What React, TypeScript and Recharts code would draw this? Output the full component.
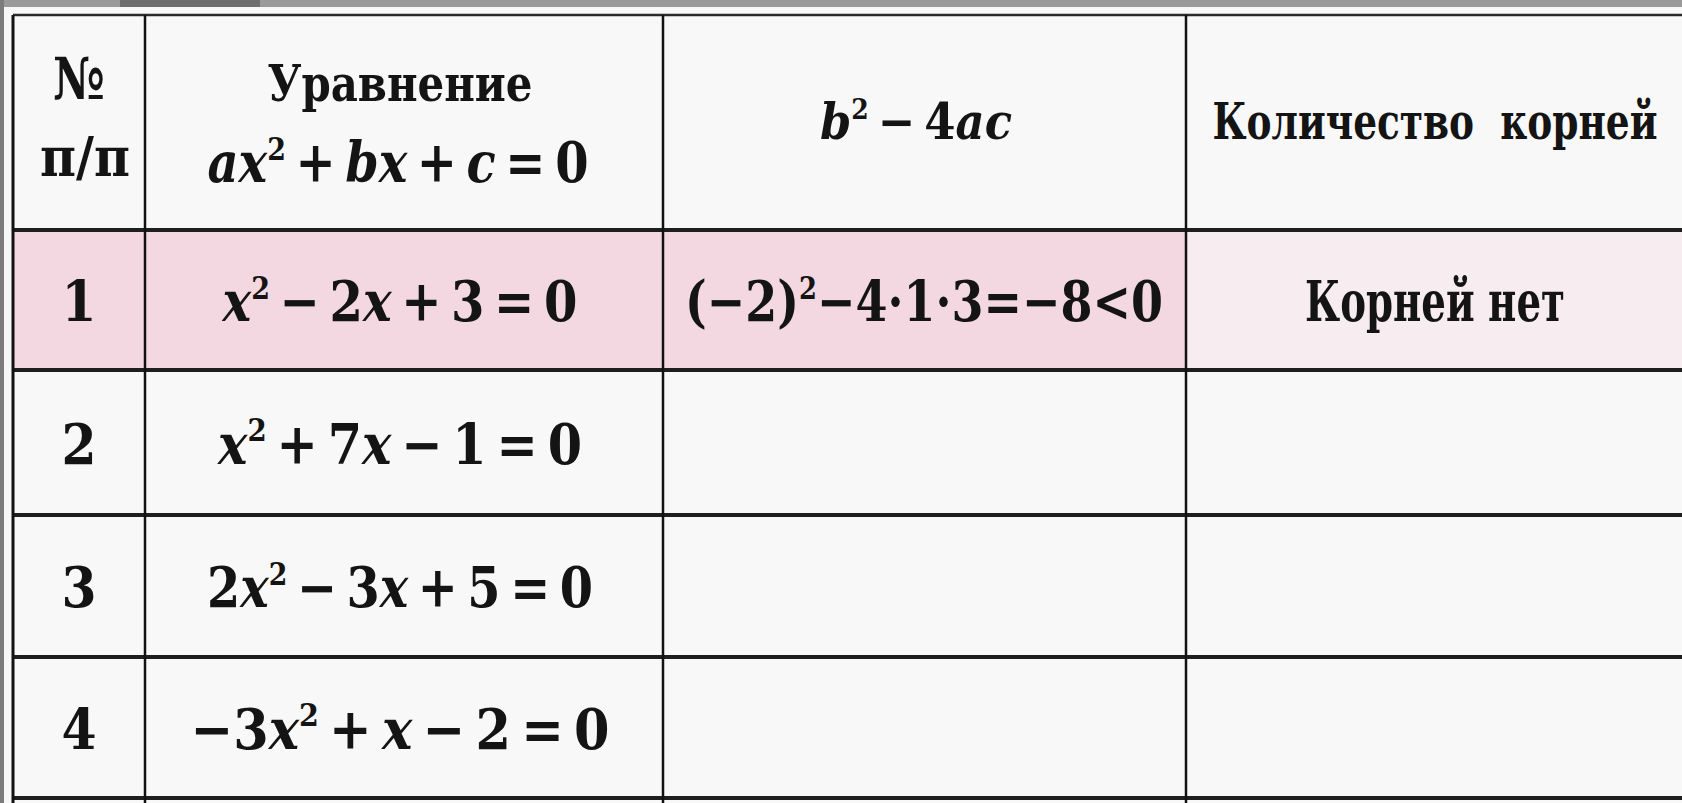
import React from "react";
import {
  ComposedChart,
  XAxis,
  YAxis,
  ReferenceArea,
  ReferenceLine,
  Scatter,
} from "recharts";

// table content
const headerNo = ["№", "п/п"];
const headerEquation = ["Уравнение", "ax^2+bx+c=0"];
const headerDiscriminant = ["b^2−4ac"];
const headerRoots = ["Количество  корней"];

const rowNumbers = ["1", "2", "3", "4"];
const equations = ["x^2−2x+3=0", "x^2+7x−1=0", "2x^2−3x+5=0", "−3x^2+x−2=0"];
const discriminants = ["(−2)^2−4·1·3=−8<0", "", "", ""];
const rootCounts = ["Корней нет", "", "", ""];

// layout (page pixels)
const W = 1682;
const H = 803;
const colEdges = [13, 145, 663, 1186];
const rowEdges = [15, 230, 370, 515, 657, 798];
const colCenters = [79, 400, 924, 1435];
const HEAD_FS = 50;
const ROW_FS = 56;
const INK = "#141414";
const FONT = "'DejaVu Serif', 'Liberation Serif', serif";

// measured text widths in the picture
const widths: Record<string, number> = {
  "№": 52,
  "п/п": 90,
  "Уравнение": 265,
  "ax^2+bx+c=0": 381,
  "b^2−4ac": 192,
  "Количество  корней": 445,
  "x^2−2x+3=0": 355,
  "x^2+7x−1=0": 364,
  "2x^2−3x+5=0": 386,
  "−3x^2+x−2=0": 419,
  "(−2)^2−4·1·3=−8<0": 478,
  "Корней нет": 260,
};

type Cell = { x: number; y: number; text: string; fs: number; gap: boolean };

const headerCells: Cell[] = [
  { x: 79, y: 99, text: headerNo[0], fs: 58, gap: false },
  { x: 85, y: 176, text: headerNo[1], fs: 54, gap: false },
  { x: colCenters[1], y: 101, text: headerEquation[0], fs: HEAD_FS, gap: false },
  { x: 398, y: 182, text: headerEquation[1], fs: ROW_FS, gap: true },
  { x: 916, y: 139, text: headerDiscriminant[0], fs: HEAD_FS, gap: true },
  { x: colCenters[3], y: 139, text: headerRoots[0], fs: HEAD_FS, gap: false },
];

const bodyCells: Cell[] = rowNumbers.flatMap((n, i) => {
  const base = (rowEdges[i + 1] + rowEdges[i + 2]) / 2 + 21;
  return [
    { x: colCenters[0], y: base, text: n, fs: ROW_FS, gap: false },
    { x: colCenters[1], y: base, text: equations[i], fs: ROW_FS, gap: true },
    { x: colCenters[2], y: base, text: discriminants[i], fs: ROW_FS, gap: false },
    { x: colCenters[3], y: base, text: rootCounts[i], fs: ROW_FS, gap: false },
  ].filter((c) => c.text !== "");
});

const cells = [...headerCells, ...bodyCells];

// binary operators get a thin space on each side
function spaced(s: string) {
  return s.replace(/([^\s(=−])([+−=<])/g, "$1\u2009$2\u2009").replace(/=(?!\u2009)/g, "=\u2009");
}

function mathSpans(s: string, fs: number) {
  const out: React.ReactNode[] = [];
  const re = /\^(\d)|[a-z]+|[^a-z^]+/g;
  let m: RegExpExecArray | null;
  let raised = false;
  let k = 0;
  const lift = fs * 0.4;
  while ((m = re.exec(s)) !== null) {
    if (m[1]) {
      out.push(
        <tspan key={k++} dy={-lift} fontSize={fs * 0.56} fontStyle="normal">
          {m[1]}
        </tspan>
      );
      raised = true;
    } else {
      const italic = /^[a-z]+$/.test(m[0]);
      out.push(
        <tspan key={k++} dy={raised ? lift : undefined} fontStyle={italic ? "italic" : "normal"}>
          {m[0]}
        </tspan>
      );
      raised = false;
    }
  }
  return out;
}

const CellText = (props: any) => {
  const { cx, cy, payload } = props;
  if (cx == null || cy == null) return null;
  const w = widths[payload.text];
  const txt = payload.gap ? spaced(payload.text) : payload.text;
  return (
    <text
      x={cx}
      y={cy}
      textAnchor="middle"
      fontFamily={FONT}
      fontWeight="bold"
      fontSize={payload.fs}
      fill={INK}
      textLength={w}
      lengthAdjust="spacingAndGlyphs"
      style={{ whiteSpace: "pre", fontStretch: "condensed" }}
    >
      {mathSpans(txt, payload.fs)}
    </text>
  );
};

export default function App() {
  return (
    <div style={{ position: "absolute", left: 0, top: 0, width: W, height: H, background: "#f8f8f8" }}>
      <ComposedChart
        width={W}
        height={H}
        data={cells}
        margin={{ top: 0, right: 0, bottom: 0, left: 0 }}
      >
        <XAxis type="number" dataKey="x" domain={[0, W]} hide />
        <YAxis type="number" dataKey="y" domain={[0, H]} reversed hide />

        {/* photo frame remnants */}
        <ReferenceArea x1={0} x2={W} y1={0} y2={7} fill="#9a9a9a" fillOpacity={1} stroke="none" />
        <ReferenceArea x1={120} x2={260} y1={0} y2={7} fill="#6e6e6e" fillOpacity={1} stroke="none" />
        <ReferenceArea x1={0} x2={4} y1={0} y2={H} fill="#7c7c7c" fillOpacity={1} stroke="none" />

        {/* highlighted first row */}
        <ReferenceArea x1={colEdges[0]} x2={colEdges[3]} y1={rowEdges[1]} y2={rowEdges[2]} fill="#f3d8e2" fillOpacity={1} stroke="none" />
        <ReferenceArea x1={colEdges[3]} x2={W} y1={rowEdges[1]} y2={rowEdges[2]} fill="#f7edf1" fillOpacity={1} stroke="none" />

        {rowEdges.map((y, i) => (
          <ReferenceLine
            key={`h${i}`}
            stroke={i === 0 ? "#2a2a2a" : "#1e1e1e"}
            strokeWidth={i === 0 ? 2.5 : 4}
            segment={[{ x: colEdges[0], y }, { x: W, y }]}
          />
        ))}
        {colEdges.map((x, i) => (
          <ReferenceLine
            key={`v${i}`}
            stroke="#121212"
            strokeWidth={i === 0 ? 3 : 2.5}
            segment={[{ x, y: rowEdges[0] }, { x, y: H }]}
          />
        ))}

        <Scatter dataKey="y" data={cells} shape={CellText} isAnimationActive={false} />
      </ComposedChart>
    </div>
  );
}
